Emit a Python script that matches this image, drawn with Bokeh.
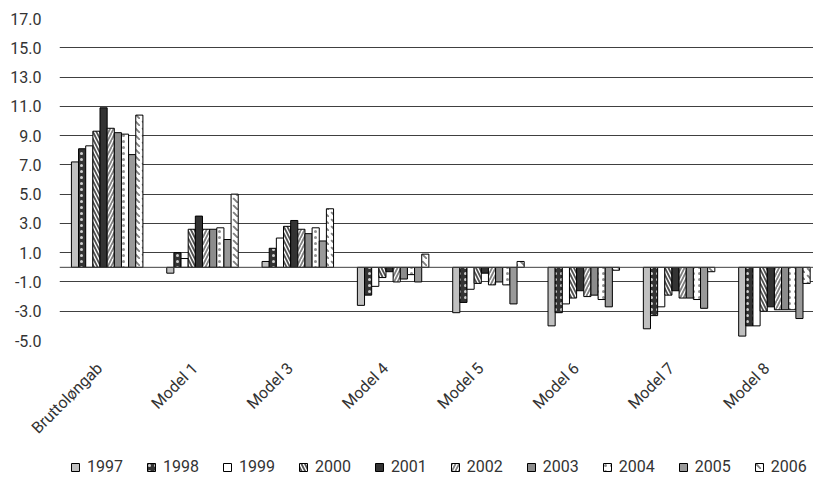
import math
from bokeh.plotting import figure
from bokeh.layouts import column
from bokeh.models import (ColumnDataSource, FixedTicker, NumeralTickFormatter,
                          Span, Legend, LegendItem, Range1d)
from bokeh.embed import file_html
from bokeh.resources import INLINE

categories = ["Bruttoløngab", "Model 1", "Model 3", "Model 4",
              "Model 5", "Model 6", "Model 7", "Model 8"]
years = ["1997", "1998", "1999", "2000", "2001",
         "2002", "2003", "2004", "2005", "2006"]

v1997 = [7.2, -0.4, 0.4, -2.6, -3.1, -4.0, -4.2, -4.7]
v1998 = [8.1, 1.0, 1.3, -1.9, -2.4, -3.1, -3.3, -4.0]
v1999 = [8.3, 0.6, 2.0, -1.3, -1.5, -2.5, -2.7, -4.0]
v2000 = [9.3, 2.6, 2.8, -0.7, -1.1, -2.1, -1.9, -3.0]
v2001 = [10.9, 3.5, 3.2, -0.3, -0.4, -1.6, -1.6, -2.7]
v2002 = [9.5, 2.6, 2.6, -1.0, -1.2, -2.0, -2.1, -2.9]
v2003 = [9.2, 2.6, 2.3, -0.8, -1.0, -1.9, -2.1, -2.9]
v2004 = [9.1, 2.7, 2.7, -0.5, -1.2, -2.2, -2.2, -2.9]
v2005 = [7.7, 1.9, 1.8, -1.0, -2.5, -2.7, -2.8, -3.5]
v2006 = [10.4, 5.0, 4.0, 0.9, 0.4, -0.2, -0.3, -1.1]
series = [v1997, v1998, v1999, v2000, v2001, v2002, v2003, v2004, v2005, v2006]

y_ticks = [-5, -3, -1, 1, 3, 5, 7, 9, 11, 13, 15, 17]

# per-year bar styling: fill, hatch pattern, hatch colour
styles = [
    dict(fill_color="#c0c0c0"),
    dict(fill_color="#333333", hatch_pattern="dot", hatch_color="#d0d0d0", hatch_scale=6, hatch_weight=1.5),
    dict(fill_color="white"),
    dict(fill_color="white", hatch_pattern="left_diagonal_line", hatch_color="#505050", hatch_scale=7, hatch_weight=1.8),
    dict(fill_color="#333333"),
    dict(fill_color="white", hatch_pattern="right_diagonal_line", hatch_color="#808080", hatch_scale=7, hatch_weight=1.8),
    dict(fill_color="#8c8c8c"),
    dict(fill_color="white", hatch_pattern="dot", hatch_color="#909090", hatch_scale=6, hatch_weight=1.5),
    dict(fill_color="#999999"),
    dict(fill_color="white", hatch_pattern="left_diagonal_dash", hatch_color="#808080", hatch_scale=7, hatch_weight=1.8),
]

FONT = "Roboto"
bar_w = 0.075
label_shift = 0.08  # rotated category labels end a little left of the group centre

# main chart
p = figure(width=813, height=450, output_backend="svg", toolbar_location=None,
           x_range=Range1d(0, 7.91), y_range=Range1d(-5, 17),
           min_border_left=59, min_border_right=0, min_border_top=18,
           min_border_bottom=110)
p.outline_line_color = None

for j, vals in enumerate(series):
    xs = [i + 0.5 + (j - 4.5) * bar_w for i in range(len(categories))]
    src = ColumnDataSource(dict(x=xs, top=vals))
    p.vbar(x="x", top="top", bottom=0, width=bar_w, source=src,
           line_color="black", line_width=1, **styles[j])

p.add_layout(Span(location=0, dimension="width", line_color="#404040", line_width=1))

p.yaxis.ticker = FixedTicker(ticks=y_ticks)
p.yaxis.formatter = NumeralTickFormatter(format="0.0")
p.yaxis.axis_line_color = None
p.yaxis.major_tick_line_color = None
p.yaxis.minor_tick_line_color = None
p.yaxis.major_label_text_font = FONT
p.yaxis.major_label_text_font_size = "16px"
p.yaxis.major_label_text_color = "#333333"
p.yaxis.major_label_standoff = 12

p.ygrid.ticker = FixedTicker(ticks=y_ticks)
p.ygrid.grid_line_color = "#404040"
p.ygrid.grid_line_width = 1
p.xgrid.grid_line_color = None

cat_ticks = [i + 0.5 - label_shift for i in range(len(categories))]
p.xaxis.ticker = FixedTicker(ticks=cat_ticks)
p.xaxis.major_label_overrides = {t: c for t, c in zip(cat_ticks, categories)}
p.xaxis.major_label_orientation = math.pi / 4
p.xaxis.axis_line_color = None
p.xaxis.major_tick_line_color = None
p.xaxis.minor_tick_line_color = None
p.xaxis.major_label_text_font = FONT
p.xaxis.major_label_text_font_size = "16px"
p.xaxis.major_label_text_color = "#333333"
p.xaxis.major_label_standoff = 19

# legend strip underneath; its swatch renderers sit outside the visible range
lg = figure(width=813, height=28, output_backend="svg", toolbar_location=None,
            x_range=Range1d(0, 1), y_range=Range1d(0, 1),
            x_axis_type=None, y_axis_type=None, min_border=0)
lg.outline_line_color = None
lg.grid.visible = False
items = []
for j, yr in enumerate(years):
    r = lg.rect(x=[5], y=[0.5], width=0.1, height=0.5,
                line_color="black", line_width=1, **styles[j])
    items.append(LegendItem(label=yr, renderers=[r]))

legend = Legend(items=items, orientation="horizontal", location=(11, 2),
                label_text_font=FONT, label_text_font_size="16px",
                label_text_color="#333333", glyph_width=10, glyph_height=10,
                label_standoff=7, spacing=23, padding=0, margin=0,
                border_line_color=None, background_fill_alpha=0)
lg.add_layout(legend, "center")

layout = column(p, lg, spacing=0)
open("out.html", "w").write(file_html(layout, INLINE))
